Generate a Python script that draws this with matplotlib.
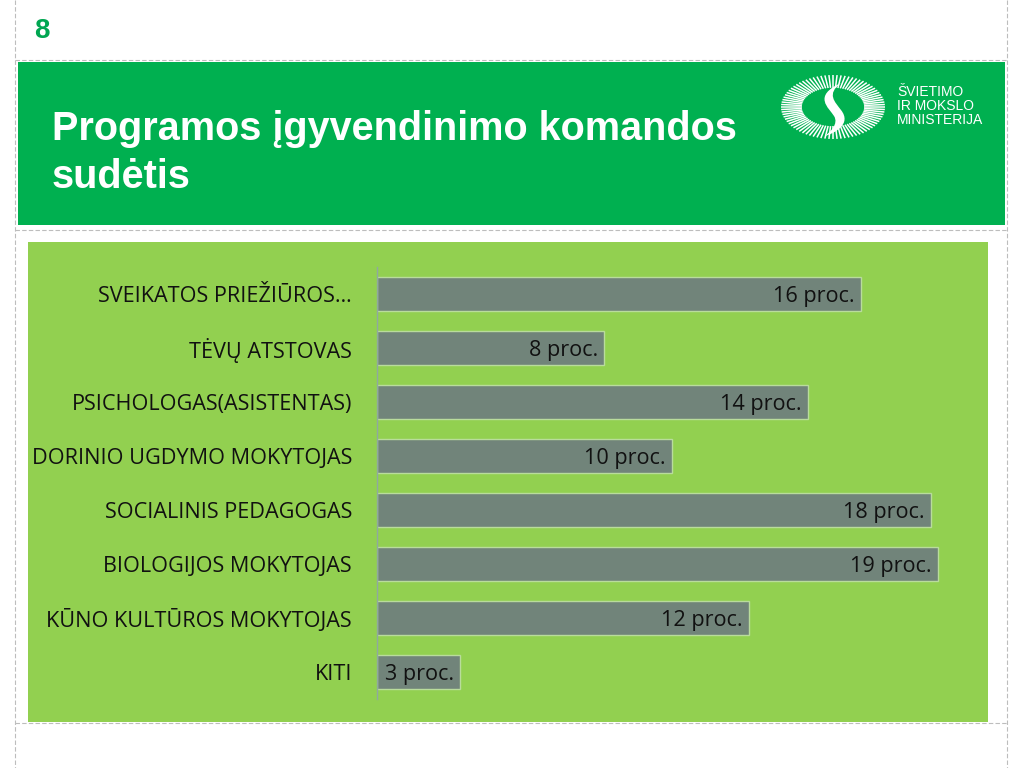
import numpy as np
import matplotlib.pyplot as plt
from matplotlib.patches import Rectangle, PathPatch
from matplotlib.path import Path

# duomenys
categories = ["SVEIKATOS PRIEŽIŪROS…", "TĖVŲ ATSTOVAS", "PSICHOLOGAS(ASISTENTAS)",
              "DORINIO UGDYMO MOKYTOJAS", "SOCIALINIS PEDAGOGAS", "BIOLOGIJOS MOKYTOJAS",
              "KŪNO KULTŪROS MOKYTOJAS", "KITI"]
values = [16.0, 7.5, 14.25, 9.75, 18.3, 18.55, 12.3, 2.75]
value_labels = ["16 proc.", "8 proc.", "14 proc.", "10 proc.", "18 proc.", "19 proc.",
                "12 proc.", "3 proc."]
title = "Programos įgyvendinimo komandos\nsudėtis"
slide_no = "8"
logo_text = "ŠVIETIMO\nIR MOKSLO\nMINISTERIJA"

W, H = 1024, 768
fig = plt.figure(figsize=(W / 100, H / 100), dpi=100)

# fonas (pikseliu koordinates)
bg = fig.add_axes([0, 0, 1, 1])
bg.set_xlim(0, W)
bg.set_ylim(H, 0)
bg.axis("off")

dash = dict(color="#bdbdbd", lw=0.8, ls=(0, (4, 2)))
bg.plot([15, 15], [0, H], **dash)
bg.plot([1007, 1007], [0, H], **dash)
for yy in [60, 230, 723]:
    bg.plot([15, 1007], [yy, yy], **dash)

bg.text(42, 31, slide_no, color="#00a651", fontsize=20, fontweight="bold",
        family="Liberation Sans", ha="center", va="center")

bg.add_patch(Rectangle((18, 62), 987, 163, color="#00b050", lw=0))
bg.text(52, 153, title, color="white", fontsize=28.5, fontweight="bold",
        family="Liberation Sans", ha="left", va="center", linespacing=1.33)

# logotipas
cx, cy, rx, ry = 833, 107, 52, 32
for a in np.linspace(0, 2 * np.pi, 80, endpoint=False):
    x0, y0 = cx + 0.6 * rx * np.cos(a), cy + 0.6 * ry * np.sin(a)
    x1, y1 = cx + rx * np.cos(a), cy + ry * np.sin(a)
    bg.plot([x0, x1], [y0, y1], color="white", lw=1.1, solid_capstyle="butt")
s_verts = [(841, 83), (812, 96), (829, 108), (834, 116), (839, 124), (830, 132), (825, 136),
           (835, 133), (852, 124), (841, 110), (835, 102), (826, 94), (841, 83)]
s_codes = [Path.MOVETO] + [Path.CURVE4] * 12
bg.add_patch(PathPatch(Path(s_verts, s_codes), color="white", lw=0))
bg.text(897, 106, logo_text, color="white", fontsize=10, family="Liberation Sans",
        ha="left", va="center", linespacing=1.0)

bg.add_patch(Rectangle((28, 242), 960, 480, color="#92d050", lw=0))

# diagrama
ax = fig.add_axes([377 / W, 1 - 699 / H, 605 / W, 432 / H])
ax.patch.set_alpha(0)
y = np.arange(len(categories))
ax.barh(y, values, height=0.62, color="#71847a", edgecolor="#b9dc9c", linewidth=1.0)
ax.set_ylim(len(categories) - 0.5, -0.5)
ax.set_xlim(0, 20)
ax.set_yticks(y)
ax.set_yticklabels(categories, fontsize=15.6, family="Open Sans", color="#111111")
ax.tick_params(axis="y", length=0, pad=18)
ax.set_xticks([])
for s in ["top", "right", "bottom"]:
    ax.spines[s].set_visible(False)
ax.spines["left"].set_color("#8fa8a0")
ax.spines["left"].set_linewidth(1.0)
for yi, v, lab in zip(y, values, value_labels):
    ax.text(v - 0.2, yi + 0.05, lab, ha="right", va="center", fontsize=15.6,
            family="Open Sans", color="#111111")

fig.savefig("out.png", dpi=100)
